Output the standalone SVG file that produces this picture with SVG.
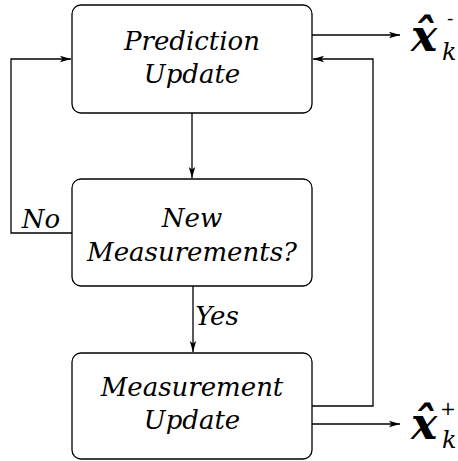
<svg xmlns="http://www.w3.org/2000/svg" width="458" height="461" viewBox="0 0 458 461">
<defs>
<marker id="ah" markerWidth="12" markerHeight="8" refX="11" refY="4" orient="auto" markerUnits="userSpaceOnUse">
<path d="M0,0.8 L11,4 L0,7.2 L2.5,4 Z" fill="#000"/>
</marker>
<style>
.box{fill:#fff;stroke:#000;stroke-width:1.3}
.lbl{font-family:"DejaVu Serif","Liberation Serif",serif;font-style:italic;font-size:26px;text-anchor:middle;fill:#000}
.edge{fill:none;stroke:#000;stroke-width:1.3}
.math{font-family:"DejaVu Serif",serif;font-style:italic;fill:#000}
.big{font-size:44px;font-weight:bold}
.sub{font-size:24px}
.sup{font-size:19px;font-style:normal}
</style>
</defs>
<rect width="458" height="461" fill="#fff"/>
<g id="connectors">
<path class="edge" d="M192,113 V178" marker-end="url(#ah)"/>
<path class="edge" d="M193,286 V352" marker-end="url(#ah)"/>
<path class="edge" d="M72,233 H11 V59 H71" marker-end="url(#ah)"/>
<path class="edge" d="M312,35 H400" marker-end="url(#ah)"/>
<path class="edge" d="M312,424 H400" marker-end="url(#ah)"/>
<path class="edge" d="M312,406 H373 V59 H313" marker-end="url(#ah)"/>
<text class="lbl" x="41" y="228">No</text>
<text class="lbl" x="217" y="325">Yes</text>
</g>
<g id="prediction">
<rect class="box" x="72" y="5" width="240" height="108" rx="9"/>
<text class="lbl" x="192" y="50">Prediction</text>
<text class="lbl" x="192" y="83">Update</text>
</g>
<g id="newmeas">
<rect class="box" x="72" y="179" width="240" height="107" rx="9"/>
<text class="lbl" x="192" y="227">New</text>
<text class="lbl" x="192" y="261">Measurements?</text>
</g>
<g id="measupdate">
<rect class="box" x="72" y="353" width="240" height="106" rx="9"/>
<text class="lbl" x="192" y="396">Measurement</text>
<text class="lbl" x="192" y="429">Update</text>
</g>
<g id="xminus">
<text class="math"><tspan class="big" x="411" y="51">x̂</tspan><tspan class="sub" x="442" y="60">k</tspan><tspan class="sup" x="447" y="25">-</tspan></text>
</g>
<g id="xplus">
<text class="math"><tspan class="big" x="411" y="439">x̂</tspan><tspan class="sub" x="442" y="448">k</tspan><tspan class="sup" x="440" y="415">+</tspan></text>
</g>
</svg>
